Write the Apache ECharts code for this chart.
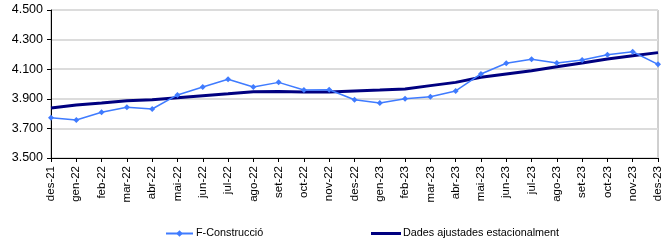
<!DOCTYPE html>
<html>
<head>
<meta charset="utf-8">
<script src="https://cdn.jsdelivr.net/npm/echarts@6/dist/echarts.min.js"></script>
<style>
  html, body { margin: 0; padding: 0; background: #fff; }
  #chart { width: 664px; height: 244px; }
</style>
</head>
<body>
<div id="chart"></div>
<script>
const months = ['des-21', 'gen-22', 'feb-22', 'mar-22', 'abr-22', 'mai-22', 'jun-22', 'jul-22', 'ago-22', 'set-22', 'oct-22', 'nov-22',
  'des-22', 'gen-23', 'feb-23', 'mar-23', 'abr-23', 'mai-23', 'jun-23', 'jul-23', 'ago-23', 'set-23', 'oct-23', 'nov-23', 'des-23'];

const construccio = [3772, 3757, 3809, 3843, 3831, 3926, 3980, 4032, 3980, 4011, 3960, 3961,
  3894, 3872, 3901, 3914, 3953, 4068, 4140, 4167, 4142, 4162, 4198, 4218, 4133];

const ajustades = [3838, 3858, 3872, 3887, 3894, 3907, 3921, 3934, 3948, 3950, 3946, 3946,
  3953, 3959, 3966, 3989, 4011, 4045, 4068, 4090, 4117, 4142, 4169, 4191, 4212];

const chart = echarts.init(document.getElementById('chart'));

const fmt = v => Math.floor(v / 1000) + '.' + String(v % 1000).padStart(3, '0');

chart.setOption({
  animation: false,
  textStyle: { fontFamily: 'Liberation Sans, Arial, sans-serif' },
  grid: { left: 51, right: 2, top: 10, bottom: 86, show: true, borderColor: '#a0a0a0', borderWidth: 1 },
  legend: [
    {
      data: ['F-Construcció'],
      left: 160, top: 223,
      itemWidth: 27, itemHeight: 8, itemGap: 3,
      textStyle: { fontSize: 10.8, color: '#000', padding: [0, 0, 0, -2] }
    },
    {
      data: [{ name: 'Dades ajustades estacionalment', icon: 'rect' }],
      left: 366, top: 223,
      itemWidth: 30, itemHeight: 3,
      textStyle: { fontSize: 10.8, color: '#000', padding: [0, 0, 0, -3] }
    }
  ],
  xAxis: {
    type: 'category',
    data: months,
    boundaryGap: false,
    axisLine: { lineStyle: { color: '#000' } },
    axisTick: { show: true, length: 4, lineStyle: { color: '#000' } },
    axisLabel: { rotate: 90, interval: 0, margin: 8, fontSize: 11.5, color: '#000' }
  },
  yAxis: {
    type: 'value',
    min: 3500, max: 4500, interval: 200,
    axisLine: { show: true, lineStyle: { color: '#000' } },
    axisTick: { show: true, length: 4, lineStyle: { color: '#000' } },
    axisLabel: { fontSize: 12.5, color: '#000', margin: 8, formatter: fmt },
    splitLine: { lineStyle: { color: '#dcdcdc', width: 2 } }
  },
  series: [
    {
      name: 'F-Construcció',
      type: 'line',
      data: construccio,
      symbol: 'diamond',
      symbolSize: 6,
      itemStyle: { color: '#3f7bff' },
      lineStyle: { color: '#3f7bff', width: 1.5 },
      z: 3
    },
    {
      name: 'Dades ajustades estacionalment',
      type: 'line',
      data: ajustades,
      symbol: 'none',
      itemStyle: { color: '#000080' },
      lineStyle: { color: '#000080', width: 3 },
      z: 2
    }
  ]
});
</script>
</body>
</html>
